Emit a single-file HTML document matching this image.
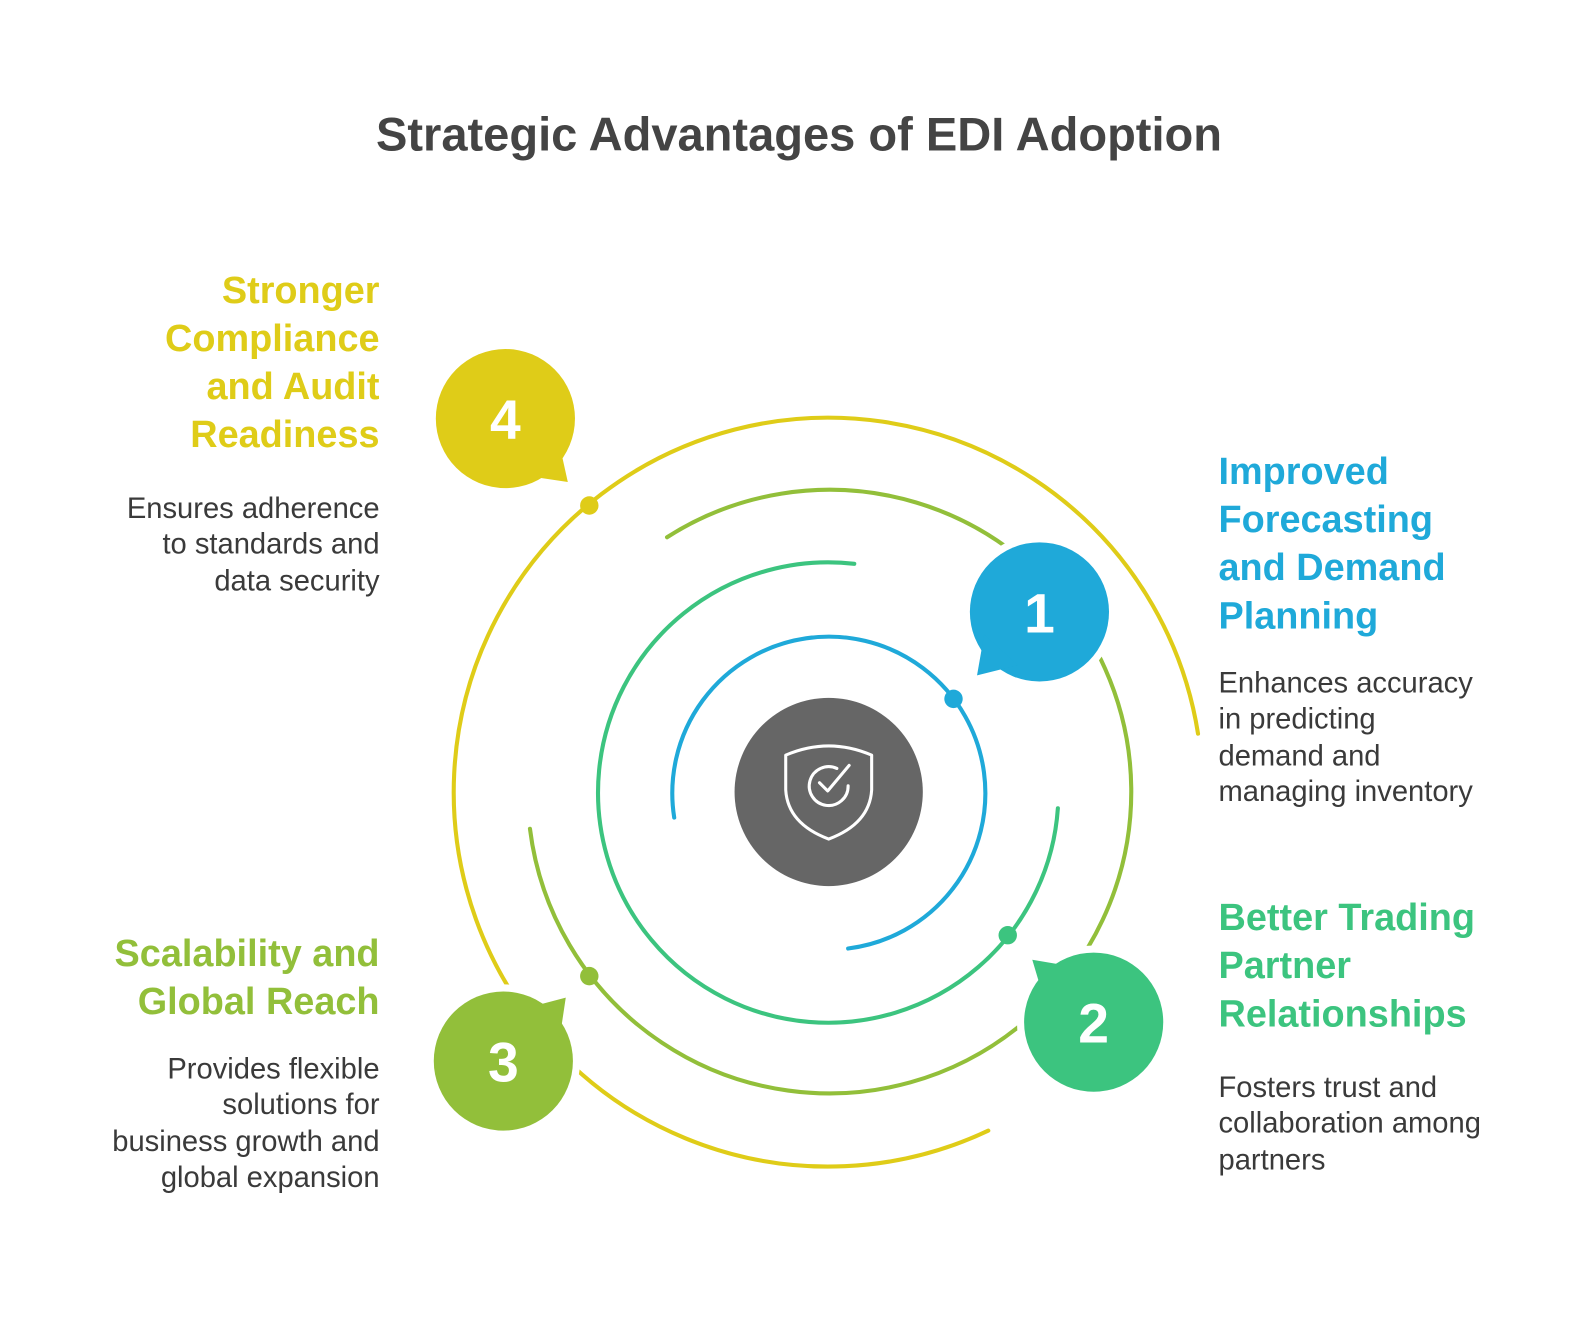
<!DOCTYPE html>
<html><head><meta charset="utf-8"><style>
html,body{margin:0;padding:0;background:#fff;}
svg{display:block;}
text{font-family:"Liberation Sans",Arial,sans-serif;}
.h{font-weight:bold;font-size:37px;}
.b{font-size:28.5px;fill:#3a3a3a;}
.n{font-weight:bold;font-size:54px;fill:#fff;}
</style></head><body>
<svg width="1596" height="1320" viewBox="0 0 1560 1290" xmlns="http://www.w3.org/2000/svg">
<rect width="1560" height="1290" fill="#fff"/>
<text x="781" y="147" text-anchor="middle" font-weight="bold" font-size="46" fill="#444">Strategic Advantages of EDI Adoption</text>
<g fill="none" stroke-width="4" stroke-linecap="round">
<path d="M659 799 A153 153 0 1 1 829 927" stroke="#1fa9d9"/>
<path d="M835 551 A225 225 0 1 0 1034 790" stroke="#3cc47f"/>
<path d="M652 525 A295 295 0 1 1 518 810" stroke="#92bf3a"/>
<path d="M1171 717 A366 366 0 1 0 966 1105" stroke="#dfcc18"/>
</g>
<circle cx="932" cy="683" r="9" fill="#1fa9d9"/>
<circle cx="985" cy="914" r="9" fill="#3cc47f"/>
<circle cx="576" cy="954" r="9" fill="#92bf3a"/>
<circle cx="576" cy="494" r="9" fill="#dfcc18"/>
<circle cx="810" cy="774" r="92" fill="#666"/>
<g fill="none" stroke="#fff" stroke-width="3" stroke-linecap="round" stroke-linejoin="round">
<path d="M768 738 Q810 720 852 738 L852 772 Q850 805 810 820 Q770 805 768 772 Z"/>
<path d="M818 751 A19 19 0 1 0 829 768"/>
<path d="M801 765 L809 773 L830 748"/>
</g>
<g fill="#fff" stroke="#fff" stroke-width="14" stroke-linejoin="round">
<circle cx="1016" cy="598" r="68"/>
<polygon points="955,660 962,620 995,650"/>
<circle cx="1069" cy="999" r="68"/>
<polygon points="1009,938 1050,945 1020,975"/>
<circle cx="492" cy="1037" r="68"/>
<polygon points="553,975 547,1015 515,985"/>
<circle cx="494" cy="409" r="68"/>
<polygon points="555,471 515,465 547,435"/>
</g>
<g>
<circle cx="1016" cy="598" r="68" fill="#1fa9d9"/>
<polygon points="955,660 962,620 995,650" fill="#1fa9d9"/>
<circle cx="1069" cy="999" r="68" fill="#3cc47f"/>
<polygon points="1009,938 1050,945 1020,975" fill="#3cc47f"/>
<circle cx="492" cy="1037" r="68" fill="#92bf3a"/>
<polygon points="553,975 547,1015 515,985" fill="#92bf3a"/>
<circle cx="494" cy="409" r="68" fill="#dfcc18"/>
<polygon points="555,471 515,465 547,435" fill="#dfcc18"/>
</g>
<text x="1016" y="618" text-anchor="middle" class="n">1</text>
<text x="1069" y="1019" text-anchor="middle" class="n">2</text>
<text x="492" y="1057" text-anchor="middle" class="n">3</text>
<text x="494" y="429" text-anchor="middle" class="n">4</text>
<g fill="#1fa9d9">
<text x="1191" y="473" class="h">Improved</text>
<text x="1191" y="520" class="h">Forecasting</text>
<text x="1191" y="567" class="h">and Demand</text>
<text x="1191" y="614" class="h">Planning</text>
</g>
<text x="1191" y="677" class="b">Enhances accuracy</text>
<text x="1191" y="712" class="b">in predicting</text>
<text x="1191" y="748" class="b">demand and</text>
<text x="1191" y="783" class="b">managing inventory</text>
<g fill="#3cc47f">
<text x="1191" y="909" class="h">Better Trading</text>
<text x="1191" y="956" class="h">Partner</text>
<text x="1191" y="1003" class="h">Relationships</text>
</g>
<text x="1191" y="1072" class="b">Fosters trust and</text>
<text x="1191" y="1107" class="b">collaboration among</text>
<text x="1191" y="1143" class="b">partners</text>
<g fill="#dfcc18" text-anchor="end">
<text x="371" y="296" class="h">Stronger</text>
<text x="371" y="343" class="h">Compliance</text>
<text x="371" y="390" class="h">and Audit</text>
<text x="371" y="437" class="h">Readiness</text>
</g>
<g text-anchor="end">
<text x="371" y="506" class="b">Ensures adherence</text>
<text x="371" y="541" class="b">to standards and</text>
<text x="371" y="577" class="b">data security</text>
</g>
<g fill="#92bf3a" text-anchor="end">
<text x="371" y="944" class="h">Scalability and</text>
<text x="371" y="991" class="h">Global Reach</text>
</g>
<g text-anchor="end">
<text x="371" y="1054" class="b">Provides flexible</text>
<text x="371" y="1089" class="b">solutions for</text>
<text x="371" y="1125" class="b">business growth and</text>
<text x="371" y="1160" class="b">global expansion</text>
</g>
</svg>
</body></html>
